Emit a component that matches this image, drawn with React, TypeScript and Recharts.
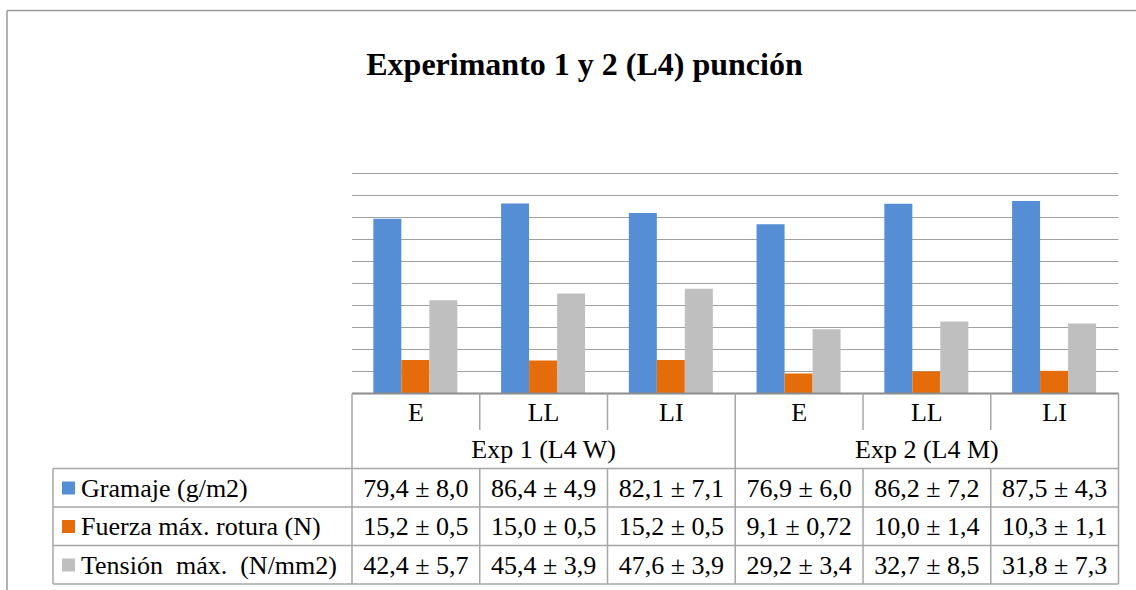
import React from 'react';
import { BarChart, Bar, XAxis, YAxis, CartesianGrid } from 'recharts';

const categories = ['E', 'LL', 'LI', 'E', 'LL', 'LI'];
const groups = ['Exp 1 (L4 W)', 'Exp 2 (L4 M)'];
const gramaje = [79.4, 86.4, 82.1, 76.9, 86.2, 87.5];
const fuerza = [15.2, 15.0, 15.2, 9.1, 10.0, 10.3];
const tension = [42.4, 45.4, 47.6, 29.2, 32.7, 31.8];
const gramajeLabels = ['79,4 ± 8,0', '86,4 ± 4,9', '82,1 ± 7,1', '76,9 ± 6,0', '86,2 ± 7,2', '87,5 ± 4,3'];
const fuerzaLabels = ['15,2 ± 0,5', '15,0 ± 0,5', '15,2 ± 0,5', '9,1 ± 0,72', '10,0 ± 1,4', '10,3 ± 1,1'];
const tensionLabels = ['42,4 ± 5,7', '45,4 ± 3,9', '47,6 ± 3,9', '29,2 ± 3,4', '32,7 ± 8,5', '31,8 ± 7,3'];
const seriesNames = ['Gramaje (g/m2)', 'Fuerza máx. rotura (N)', 'Tensión  máx.  (N/mm2)'];
const yTicks = [0, 10, 20, 30, 40, 50, 60, 70, 80, 90, 100];

const COLORS = ['#558ED5', '#E46C0A', '#BFBFBF'];
const W = 1136;
const H = 590;
const PLOT_LEFT = 352;
const PLOT_RIGHT = 1118.5;
const PLOT_TOP = 173.5;
const AXIS_Y = 393.5;
const XAXIS_H = 190;
const ROW1_BOTTOM = 430;
const TABLE_TOP = 468.5;
const ROW_H = 38.5;
const TABLE_LEFT = 53;
const LINE = '#a6a6a6';
const FONT = "'Liberation Serif', 'Times New Roman', serif";
const BAND = (PLOT_RIGHT - PLOT_LEFT) / categories.length;

const data = categories.map((c, i) => ({
  cat: c,
  gramaje: gramaje[i],
  fuerza: fuerza[i],
  tension: tension[i],
}));

const rowLabels = [gramajeLabels, fuerzaLabels, tensionLabels];

function renderTick(props: any) {
  const { x, payload } = props;
  const i = payload.index;
  const right = x + BAND / 2;
  const left = x - BAND / 2;
  const tableBottom = TABLE_TOP + ROW_H * 3;
  const groupEnd = i % 3 === 2;
  return (
    <g>
      {i === 0 && <line x1={left} y1={AXIS_Y} x2={left} y2={tableBottom} stroke={LINE} strokeWidth={1.5} />}
      {groupEnd ? (
        <line x1={right} y1={AXIS_Y} x2={right} y2={tableBottom} stroke={LINE} strokeWidth={1.5} />
      ) : (
        <>
          <line x1={right} y1={AXIS_Y} x2={right} y2={ROW1_BOTTOM} stroke={LINE} strokeWidth={1.5} />
          <line x1={right} y1={TABLE_TOP} x2={right} y2={tableBottom} stroke={LINE} strokeWidth={1.5} />
        </>
      )}
      <text x={x} y={421} textAnchor="middle" style={{ fontFamily: FONT }} fontSize={26} fill="#000">
        {payload.value}
      </text>
      {i % 3 === 1 && (
        <text x={x} y={458} textAnchor="middle" style={{ fontFamily: FONT }} fontSize={26} fill="#000">
          {groups[Math.floor(i / 3)]}
        </text>
      )}
      {rowLabels.map((labels, r) => (
        <text key={r} x={x} y={TABLE_TOP + ROW_H * r + 28} textAnchor="middle" style={{ fontFamily: FONT }} fontSize={26} fill="#000">
          {labels[i]}
        </text>
      ))}
    </g>
  );
}

export default function App() {
  return (
    <div style={{ position: 'absolute', left: 0, top: 0, width: W, height: H, background: '#fff' }}>
      <BarChart
        width={W}
        height={H}
        data={data}
        margin={{ top: PLOT_TOP, right: W - PLOT_RIGHT, bottom: H - AXIS_Y - XAXIS_H, left: PLOT_LEFT }}
        barCategoryGap="16.7%"
        barGap={0}
      >
        <CartesianGrid vertical={false} stroke="#a0a0a0" strokeWidth={1} />
        <YAxis hide domain={[0, 100]} ticks={yTicks} interval={0} type="number" />
        <XAxis
          dataKey="cat"
          height={XAXIS_H}
          interval={0}
          tickLine={false}
          axisLine={{ stroke: '#8c8c8c', strokeWidth: 2 }}
          tick={renderTick}
        />
        <Bar dataKey="gramaje" fill={COLORS[0]} isAnimationActive={false} />
        <Bar dataKey="fuerza" fill={COLORS[1]} isAnimationActive={false} />
        <Bar dataKey="tension" fill={COLORS[2]} isAnimationActive={false} />
      </BarChart>
      <svg width={W} height={H} style={{ position: 'absolute', left: 0, top: 0, pointerEvents: 'none' }}>
        <line x1={7} y1={10.5} x2={W} y2={10.5} stroke="#9a9a9a" strokeWidth={1.5} />
        <line x1={7} y1={10.5} x2={7} y2={H} stroke="#9a9a9a" strokeWidth={1.5} />
        <text x={584.5} y={75} textAnchor="middle" style={{ fontFamily: FONT }} fontSize={32} fontWeight="bold" fill="#000">
          Experimanto 1 y 2 (L4) punción
        </text>
        {[0, 1, 2, 3].map((r) => (
          <line
            key={r}
            x1={TABLE_LEFT}
            y1={TABLE_TOP + ROW_H * r}
            x2={PLOT_RIGHT}
            y2={TABLE_TOP + ROW_H * r}
            stroke={LINE}
            strokeWidth={1.5}
          />
        ))}
        <line x1={TABLE_LEFT} y1={TABLE_TOP} x2={TABLE_LEFT} y2={TABLE_TOP + ROW_H * 3} stroke={LINE} strokeWidth={1.5} />
        {seriesNames.map((name, r) => (
          <g key={name}>
            <rect x={62} y={TABLE_TOP + ROW_H * r + 13} width={13} height={13} fill={COLORS[r]} />
            <text
              x={81}
              y={TABLE_TOP + ROW_H * r + 28}
              fontSize={26}
              fill="#000"
              xmlSpace="preserve"
              style={{ whiteSpace: 'pre', fontFamily: FONT }}
            >
              {name}
            </text>
          </g>
        ))}
      </svg>
    </div>
  );
}
